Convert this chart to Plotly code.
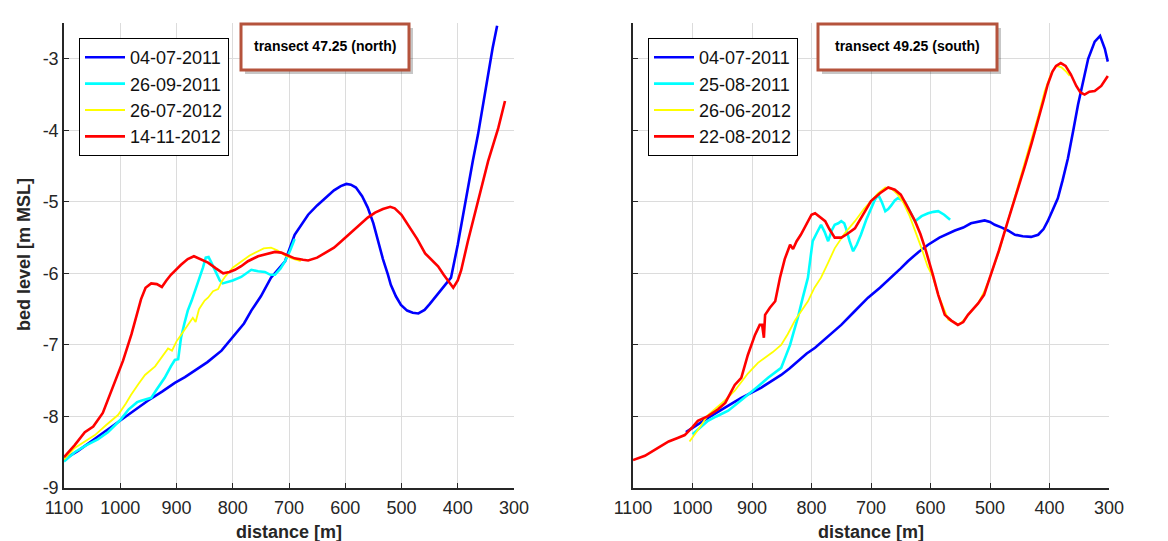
import plotly.graph_objects as go

# ---------------- data: transect 47.25 (north) ----------------
north_labels = ["04-07-2011", "26-09-2011", "26-07-2012", "14-11-2012"]

north_a_dist = [1100, 1075, 1052, 1025, 998, 975, 951, 925, 903, 885, 867, 845, 820, 796, 780, 767, 750, 732,
                707, 690, 666, 650, 636, 620, 608, 598, 590, 581, 570, 560, 550, 542, 533, 524, 519, 510, 501,
                490, 480, 470, 459, 450, 441, 432, 423, 412, 400, 391, 382, 373, 364, 355, 346, 338, 330]
north_a_level = [-8.6, -8.48, -8.35, -8.2, -8.05, -7.92, -7.78, -7.65, -7.53, -7.45, -7.36, -7.24, -7.08, -6.86,
                 -6.7, -6.52, -6.32, -6.06, -5.83, -5.46, -5.18, -5.05, -4.95, -4.84, -4.78, -4.75, -4.76, -4.8,
                 -4.92, -5.08, -5.3, -5.55, -5.8, -6.02, -6.16, -6.32, -6.44, -6.52, -6.55, -6.56, -6.51, -6.43,
                 -6.34, -6.25, -6.16, -6.06, -5.6, -5.2, -4.8, -4.42, -4.06, -3.64, -3.22, -2.85, -2.54]

north_b_dist = [1100, 1081, 1060, 1040, 1022, 1000, 985, 970, 963, 945, 935, 921, 910, 903, 897, 892, 886, 880,
                873, 867, 859, 853, 848, 843, 838, 830, 823, 818, 810, 800, 785, 775, 767, 755, 743, 733, 725,
                715, 707, 698, 690]
north_b_level = [-8.63, -8.5, -8.4, -8.32, -8.22, -8.05, -7.9, -7.8, -7.78, -7.74, -7.62, -7.46, -7.3, -7.21,
                 -7.2, -6.9, -6.7, -6.52, -6.38, -6.25, -6.07, -5.92, -5.78, -5.77, -5.85, -5.98, -6.1, -6.14,
                 -6.12, -6.1, -6.05, -6.0, -5.95, -5.97, -5.98, -6.02, -6.02, -5.93, -5.83, -5.68, -5.52]

north_c_dist = [1100, 1081, 1063, 1045, 1025, 1004, 990, 981, 968, 956, 938, 925, 915, 908, 900, 892, 880, 871,
                866, 860, 850, 844, 835, 826, 820, 814, 800, 785, 770, 755, 745, 732, 720, 707, 695, 679]
north_c_level = [-8.6, -8.44, -8.35, -8.26, -8.12, -7.98, -7.82, -7.7, -7.55, -7.42, -7.3, -7.15, -7.05, -7.08,
                 -6.95, -6.86, -6.72, -6.62, -6.68, -6.5, -6.38, -6.34, -6.25, -6.22, -6.12, -6.05, -5.92, -5.83,
                 -5.75, -5.69, -5.65, -5.64, -5.68, -5.75, -5.79, -5.83]

north_d_dist = [1100, 1081, 1063, 1048, 1031, 1016, 1005, 995, 980, 970, 963, 955, 945, 935, 926, 918, 910, 892,
                880, 869, 857, 844, 830, 817, 806, 796, 785, 773, 755, 737, 725, 714, 700, 690, 675, 666, 650,
                636, 620, 607, 590, 572, 560, 547, 533, 520, 512, 500, 488, 472, 458, 445, 435, 425, 415, 408,
                400, 394, 382, 370, 358, 346, 337, 328, 316]
north_d_level = [-8.57, -8.4, -8.22, -8.14, -7.95, -7.64, -7.42, -7.22, -6.85, -6.58, -6.36, -6.2, -6.14, -6.15,
                 -6.19, -6.1, -6.02, -5.88, -5.8, -5.76, -5.8, -5.85, -5.93, -6.0, -5.98, -5.95, -5.9, -5.83,
                 -5.76, -5.72, -5.7, -5.71, -5.76, -5.79, -5.81, -5.82, -5.78, -5.72, -5.64, -5.55, -5.43, -5.3,
                 -5.22, -5.15, -5.1, -5.07, -5.09, -5.18, -5.32, -5.52, -5.72, -5.82, -5.9, -6.02, -6.12, -6.2,
                 -6.1, -5.96, -5.55, -5.18, -4.8, -4.43, -4.2, -3.97, -3.59]

# ---------------- data: transect 49.25 (south) ----------------
south_labels = ["04-07-2011", "25-08-2011", "26-06-2012", "22-08-2012"]

south_a_dist = [1011, 990, 974, 960, 945, 930, 918, 900, 885, 870, 851, 837, 823, 808, 794, 775, 750, 730, 705,
                685, 666, 650, 638, 620, 604, 585, 559, 545, 532, 520, 509, 500, 492, 480, 470, 458, 445, 431,
                419, 410, 403, 395, 386, 378, 369, 360, 352, 343, 335, 324, 315, 307, 302]
south_a_level = [-8.22, -8.1, -8.02, -7.95, -7.88, -7.8, -7.74, -7.67, -7.6, -7.52, -7.42, -7.33, -7.23, -7.12,
                 -7.04, -6.9, -6.72, -6.55, -6.34, -6.2, -6.06, -5.93, -5.83, -5.7, -5.6, -5.5, -5.4, -5.36,
                 -5.3, -5.28, -5.26, -5.28, -5.32, -5.36, -5.4, -5.46, -5.48, -5.49, -5.46, -5.38, -5.27, -5.12,
                 -4.95, -4.7, -4.39, -4.0, -3.64, -3.3, -3.0, -2.76, -2.68, -2.86, -3.04]

south_b_dist = [1000, 985, 974, 960, 940, 925, 907, 890, 873, 860, 851, 843, 836, 830, 823, 815, 806, 802, 798,
                792, 784, 778, 772, 766, 761, 755, 750, 745, 742, 736, 730, 724, 717, 708, 700, 694, 688, 682,
                676, 671, 666, 660, 655, 648, 643, 635, 626, 615, 604, 595, 587, 577, 567]
south_b_level = [-8.25, -8.14, -8.06, -8.0, -7.92, -7.82, -7.7, -7.58, -7.46, -7.38, -7.32, -7.15, -7.0, -6.82,
                 -6.62, -6.35, -6.06, -5.8, -5.55, -5.45, -5.32, -5.42, -5.55, -5.4, -5.32, -5.3, -5.27, -5.3,
                 -5.37, -5.55, -5.69, -5.6, -5.46, -5.25, -5.09, -4.98, -4.9, -5.0, -5.13, -5.1, -5.05, -4.98,
                 -4.95, -4.97, -5.0, -5.12, -5.27, -5.2, -5.16, -5.14, -5.13, -5.18, -5.25]

south_c_dist = [1005, 990, 974, 960, 946, 929, 907, 890, 878, 865, 851, 840, 828, 815, 806, 795, 784, 772, 761,
                745, 727, 712, 700, 688, 676, 665, 655, 645, 635, 626, 615, 605, 596, 587, 578, 570, 560, 553,
                545, 537, 528, 520, 510, 500, 485, 470, 455, 441, 430, 419, 408, 397, 389, 380, 372, 366]
south_c_level = [-8.35, -8.18, -7.98, -7.88, -7.78, -7.64, -7.4, -7.25, -7.18, -7.1, -7.0, -6.85, -6.66, -6.5,
                 -6.39, -6.2, -6.06, -5.85, -5.65, -5.45, -5.27, -5.1, -4.99, -4.88, -4.8, -4.82, -4.9, -5.02,
                 -5.2, -5.4, -5.65, -5.9, -6.05, -6.3, -6.5, -6.65, -6.68, -6.72, -6.66, -6.58, -6.5, -6.42,
                 -6.26, -6.05, -5.7, -5.27, -4.85, -4.45, -4.1, -3.8, -3.45, -3.2, -3.1, -3.12, -3.18, -3.24]

south_d_dist = [1100, 1080, 1058, 1040, 1025, 1013, 1000, 991, 975, 957, 945, 935, 929, 918, 907, 895, 887, 883,
                880, 878, 870, 861, 853, 845, 836, 831, 825, 818, 806, 800, 794, 785, 777, 770, 761, 750, 740,
                727, 713, 700, 685, 671, 660, 650, 640, 626, 617, 609, 596, 587, 576, 565, 554, 545, 537, 520,
                510, 500, 485, 470, 455, 441, 430, 419, 410, 403, 395, 389, 381, 373, 364, 355, 348, 341, 333,
                324, 313, 302]
south_d_level = [-8.61, -8.55, -8.44, -8.35, -8.3, -8.26, -8.15, -8.06, -8.0, -7.9, -7.81, -7.65, -7.56, -7.46,
                 -7.14, -6.86, -6.72, -6.72, -6.9, -6.58, -6.48, -6.39, -6.06, -5.8, -5.6, -5.66, -5.55, -5.46,
                 -5.27, -5.18, -5.16, -5.22, -5.27, -5.38, -5.5, -5.5, -5.45, -5.37, -5.18, -4.99, -4.88, -4.8,
                 -4.83, -4.9, -5.05, -5.27, -5.45, -5.65, -6.02, -6.3, -6.58, -6.66, -6.72, -6.68, -6.58, -6.42,
                 -6.3, -6.05, -5.68, -5.27, -4.88, -4.49, -4.18, -3.87, -3.58, -3.36, -3.18, -3.1, -3.06, -3.1,
                 -3.22, -3.38, -3.47, -3.5, -3.46, -3.45, -3.38, -3.24]

x_ticks = [1100, 1000, 900, 800, 700, 600, 500, 400, 300]
y_ticks = [-9, -8, -7, -6, -5, -4, -3]
y_tick_text = ["-9", "-8", "-7", "-6", "-5", "-4", "-3"]

colors = ["#0000ff", "#00ffff", "#ffff00", "#ff0000"]
widths = [2.6, 2.6, 1.8, 2.6]

W, H = 1168, 541
def px(x):
    return x / W
def py(y):
    return 1 - y / H

fig = go.Figure()
north = [(north_a_dist, north_a_level), (north_b_dist, north_b_level),
         (north_c_dist, north_c_level), (north_d_dist, north_d_level)]
south = [(south_a_dist, south_a_level), (south_b_dist, south_b_level),
         (south_c_dist, south_c_level), (south_d_dist, south_d_level)]
for i, (d, v) in enumerate(north):
    fig.add_trace(go.Scatter(x=d, y=v, mode="lines", name=north_labels[i],
                             line=dict(color=colors[i], width=widths[i]),
                             xaxis="x", yaxis="y", legend="legend"))
for i, (d, v) in enumerate(south):
    fig.add_trace(go.Scatter(x=d, y=v, mode="lines", name=south_labels[i],
                             line=dict(color=colors[i], width=widths[i]),
                             xaxis="x2", yaxis="y2", legend="legend2"))

tick_font = dict(family="Arial", size=18, color="#262626")
axis_common = dict(showgrid=True, gridcolor="#dcdcdc", gridwidth=1, zeroline=False,
                   showline=True, linecolor="#262626", linewidth=1.5,
                   ticks="inside", ticklen=5, tickcolor="#262626", tickwidth=1,
                   tickfont=tick_font, automargin=False)

ydom = [py(480), py(15)]
fig.update_layout(
    width=W, height=H, template="none",
    paper_bgcolor="white", plot_bgcolor="white",
    margin=dict(l=0, r=0, t=0, b=0),
    showlegend=True,
    xaxis=dict(domain=[px(56), px(506)], range=[1100, 300], tickvals=x_ticks, anchor="y",
               ticklabelstandoff=3, **axis_common),
    yaxis=dict(domain=ydom, range=[-9, -2.5], tickvals=y_ticks, ticktext=y_tick_text, anchor="x",
               **axis_common),
    xaxis2=dict(domain=[px(625), px(1101)], range=[1100, 300], tickvals=x_ticks, anchor="y2",
                ticklabelstandoff=3, **axis_common),
    yaxis2=dict(domain=ydom, range=[-9, -2.5], tickvals=y_ticks, anchor="x2", showticklabels=False,
                **axis_common),
    legend=dict(x=px(71), y=py(30), xanchor="left", yanchor="top", bgcolor="white",
                bordercolor="#000000", borderwidth=1, font=dict(family="Arial", size=18, color="#111"),
                itemwidth=40, tracegroupgap=0),
    legend2=dict(x=px(640), y=py(30), xanchor="left", yanchor="top", bgcolor="white",
                 bordercolor="#000000", borderwidth=1, font=dict(family="Arial", size=18, color="#111"),
                 itemwidth=40, tracegroupgap=0),
)

# title boxes with drop shadow
boxes = [((233, 16, 401, 62), "transect 47.25 (north)"), ((810, 16, 989, 62), "transect 49.25 (south)")]
for (x0, y0, x1, y1), txt in boxes:
    fig.add_shape(type="rect", xref="paper", yref="paper", x0=px(x0 + 4), y0=py(y1 + 4), x1=px(x1 + 4),
                  y1=py(y0 + 4), fillcolor="rgba(0,0,0,0.22)", line=dict(width=0), layer="above")
    fig.add_shape(type="rect", xref="paper", yref="paper", x0=px(x0), y0=py(y1), x1=px(x1), y1=py(y0),
                  fillcolor="white", line=dict(color="#b5533c", width=3), layer="above")
    fig.add_annotation(xref="paper", yref="paper", x=px((x0 + x1) / 2), y=py(38), text="<b>" + txt + "</b>",
                       showarrow=False, font=dict(family="Arial", size=14, color="#000"),
                       xanchor="center", yanchor="middle")

# axis titles
title_font = dict(family="Arial", size=18, color="#262626")
for cx in [(56 + 506) / 2, (625 + 1101) / 2]:
    fig.add_annotation(xref="paper", yref="paper", x=px(cx), y=py(524), text="<b>distance [m]</b>",
                       showarrow=False, font=title_font, xanchor="center", yanchor="middle")
fig.add_annotation(xref="paper", yref="paper", x=px(16), y=py(247), text="<b>bed level [m MSL]</b>",
                   showarrow=False, font=title_font, textangle=-90, xanchor="center", yanchor="middle")

fig.write_html("out.html")
